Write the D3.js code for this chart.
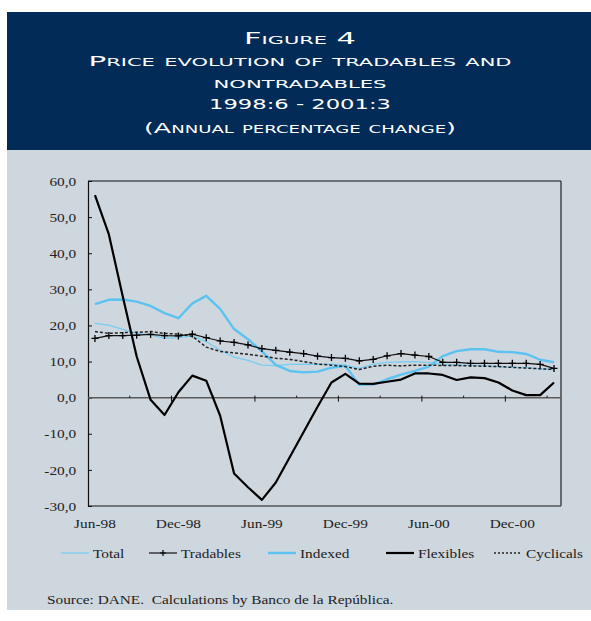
<!DOCTYPE html>
<html>
<head>
<meta charset="utf-8">
<script src="https://cdn.jsdelivr.net/npm/d3@7/dist/d3.min.js"></script>
<style>
  body { margin: 0; background: #ffffff; }
  svg text { font-family: "Liberation Serif", "Times New Roman", serif; }
</style>
</head>
<body>
<script>
// Figure 4 -- tradables and nontradables, annual % change, 1998:6 - 2001:3

//monthly categories
var months = ["Jun-98","Jul-98","Aug-98","Sep-98","Oct-98","Nov-98","Dec-98","Jan-99","Feb-99","Mar-99",
  "Apr-99","May-99","Jun-99","Jul-99","Aug-99","Sep-99","Oct-99","Nov-99","Dec-99","Jan-00",
  "Feb-00","Mar-00","Apr-00","May-00","Jun-00","Jul-00","Aug-00","Sep-00","Oct-00","Nov-00",
  "Dec-00","Jan-01","Feb-01","Mar-01"];

//series values
var total = [20.6, 20.1, 18.9, 17.8, 17.4, 16.4, 16.6, 17.1, 15.5, 13.2, 11.2, 10.3, 9.0, 8.9, 9.2, 9.3, 9.2,
  9.3, 9.0, 8.1, 9.3, 9.8, 9.9, 10.0, 9.7, 9.2, 9.0, 9.0, 8.8, 8.6, 8.4, 8.3, 8.0, 7.7];
var tradables = [16.4, 17.2, 17.2, 17.3, 17.5, 17.2, 17.1, 17.6, 16.6, 15.7, 15.3, 14.6, 13.6, 13.1, 12.6, 12.2, 11.5,
  11.1, 10.9, 10.2, 10.6, 11.6, 12.2, 11.8, 11.4, 9.8, 9.8, 9.5, 9.5, 9.5, 9.5, 9.5, 9.2, 8.1];
var indexed = [25.9, 27.1, 27.2, 26.6, 25.4, 23.4, 22.0, 26.1, 28.2, 24.6, 19.0, 16.2, 12.8, 9.1, 7.4, 7.0, 7.2,
  8.3, 8.8, 3.6, 3.6, 5.1, 6.4, 7.4, 8.6, 11.5, 12.9, 13.4, 13.4, 12.7, 12.6, 12.1, 10.5, 9.8];
var flexibles = [56.1, 45.2, 28.0, 11.4, -0.6, -4.8, 1.5, 6.1, 4.7, -5.0, -21.0, -24.8, -28.3, -23.5, -16.5, -9.5, -2.5,
  4.2, 6.6, 3.9, 3.8, 4.4, 5.0, 6.7, 6.7, 6.3, 4.9, 5.6, 5.4, 4.2, 2.0, 0.7, 0.7, 4.2];
var cyclicals = [18.3, 17.8, 18.0, 18.1, 18.3, 17.8, 17.6, 17.0, 14.0, 12.8, 12.4, 12.0, 11.5, 10.9, 10.6, 10.0, 9.3,
  9.0, 8.6, 7.8, 8.7, 9.0, 8.8, 9.0, 9.0, 8.9, 8.9, 8.8, 8.7, 8.6, 8.4, 8.2, 8.0, 7.8];

//axis ticks and labels
var yTicks = [-30, -20, -10, 0, 10, 20, 30, 40, 50, 60];
var xLabels = ["Jun-98", "Dec-98", "Jun-99", "Dec-99", "Jun-00", "Dec-00"];

//title lines
var titleLines = ["Figure 4", "Price evolution of tradables and", "nontradables", "1998:6 - 2001:3",
  "(Annual percentage change)"];
var sourceText = "Source: DANE.  Calculations by Banco de la Rep\u00fablica.";

//legend entries
var legendNames = ["Total", "Tradables", "Indexed", "Flexibles", "Cyclicals"];

(function(){

var navy = "#022c57",
  panel = "#ced6de",
  blue = "#5cc3f0",
  lightBlue = "#78cdf2",
  stretchX = 1.18;

var width = 591,
  height = 621;

var svg = d3.select("body")
  .append("svg")
  .attr("width", width)
  .attr("height", height);

//header band and grey panel
svg.append("rect").attr("x", 7).attr("y", 12).attr("width", width - 7).attr("height", 138).attr("fill", navy);
svg.append("rect").attr("x", 7).attr("y", 150).attr("width", width - 7).attr("height", 460).attr("fill", panel);

//title, small caps
var titleY = [44, 66, 88, 109, 133],
  titleW = [112, 423, 173, 182, 312],
  titleSize = [16, 14, 14, 14, 14];
titleLines.forEach(function(t, i){
  svg.append("text")
    .attr("x", 300)
    .attr("y", titleY[i])
    .attr("text-anchor", "middle")
    .attr("fill", "#ffffff")
    .attr("textLength", titleW[i])
    .attr("lengthAdjust", "spacingAndGlyphs")
    .style("font-family", "'DejaVu Sans', sans-serif")
    .style("font-variant", "small-caps")
    .style("font-size", titleSize[i] + "px")
    .text(t);
});

//plot frame
var plotLeft = 88, plotRight = 561, plotTop = 181, plotBottom = 506;

var x = d3.scaleBand()
  .domain(months)
  .range([plotLeft, plotRight]);

var y = d3.scaleLinear()
  .domain([-30, 60])
  .range([plotBottom, plotTop]);

function cx(i){
  return x(months[i]) + x.bandwidth() / 2;
}

svg.append("line").attr("x1", plotLeft).attr("x2", plotRight).attr("y1", plotTop).attr("y2", plotTop)
  .attr("stroke", "#111").attr("stroke-width", 1.2);
svg.append("line").attr("x1", plotRight).attr("x2", plotRight).attr("y1", plotTop).attr("y2", plotBottom)
  .attr("stroke", "#222").attr("stroke-width", 1.2);
svg.append("line").attr("x1", plotLeft).attr("x2", plotRight).attr("y1", plotBottom).attr("y2", plotBottom)
  .attr("stroke", "#555").attr("stroke-width", 1.3);

//y axis
var yAxis = d3.axisLeft(y)
  .tickValues(yTicks)
  .tickSize(-4)
  .tickPadding(10)
  .tickFormat(function(d){
    return (d < 0 ? "-" : "") + Math.abs(d).toFixed(1).replace(".", ",");
  });

var yg = svg.append("g")
  .attr("transform", "translate(" + plotLeft + ",0)")
  .call(yAxis);
yg.select(".domain").attr("stroke", "#111").attr("stroke-width", 1.2);
yg.selectAll(".tick line").attr("stroke", "#111");
yg.selectAll(".tick text")
  .attr("transform", "scale(" + stretchX + ",1)")
  .style("font-family", "'Liberation Serif', serif")
  .style("font-size", "13px")
  .attr("fill", "#222");

//zero line with category ticks every 3 months
var y0 = y(0);
svg.append("line").attr("x1", plotLeft).attr("x2", plotRight).attr("y1", y0).attr("y2", y0)
  .attr("stroke", "#5a5a5a").attr("stroke-width", 1.5);

months.forEach(function(m, i){
  if (i === 0 || i % 3 !== 0) return;
  var big = i % 6 === 0;
  svg.append("line")
    .attr("x1", x(m)).attr("x2", x(m))
    .attr("y1", y0 - 2)
    .attr("y2", big ? y0 + 4 : y0)
    .attr("stroke", "#111")
    .attr("stroke-width", 1);
});

//x labels along the bottom
var xAxis = d3.axisBottom(x)
  .tickValues(xLabels)
  .tickSize(0)
  .tickPadding(13);

var xg = svg.append("g")
  .attr("transform", "translate(0," + plotBottom + ")")
  .call(xAxis);
xg.select(".domain").remove();
xg.selectAll(".tick text")
  .attr("transform", "scale(" + stretchX + ",1)")
  .style("font-family", "'Liberation Serif', serif")
  .style("font-size", "13px")
  .attr("fill", "#222");

//lines
var line = d3.line()
  .x(function(d, i){ return cx(i); })
  .y(function(d){ return y(d); });

function addSeries(values, color, w, dash){
  svg.append("path")
    .datum(values)
    .attr("d", line)
    .attr("fill", "none")
    .attr("stroke", color)
    .attr("stroke-width", w)
    .attr("stroke-linejoin", "round")
    .attr("stroke-dasharray", dash || null);
}

addSeries(total, lightBlue, 1.3);
addSeries(indexed, blue, 2.4);
addSeries(cyclicals, "#222", 1.5, "3,2");
addSeries(tradables, "#111", 1.2);
addSeries(flexibles, "#000", 2.2);

//plus markers on tradables
svg.selectAll(".plus")
  .data(tradables)
  .enter()
  .append("path")
  .attr("class", "plus")
  .attr("d", function(d, i){
    var px = cx(i), py = y(d);
    return "M" + (px - 3.5) + "," + py + "H" + (px + 3.5) + "M" + px + "," + (py - 3.5) + "V" + (py + 3.5);
  })
  .attr("stroke", "#000")
  .attr("stroke-width", 1.3);

//legend
var legX = [61, 149, 268, 386, 494],
  legY = 553;
var legStyle = [
  {color: lightBlue, w: 1.3},
  {color: "#111", w: 1.2, plus: true},
  {color: blue, w: 2.4},
  {color: "#000", w: 2.2},
  {color: "#222", w: 1.5, dash: "2,2"}
];
legendNames.forEach(function(name, i){
  var s = legStyle[i];
  svg.append("line")
    .attr("x1", legX[i]).attr("x2", legX[i] + 28)
    .attr("y1", legY).attr("y2", legY)
    .attr("stroke", s.color)
    .attr("stroke-width", s.w)
    .attr("stroke-dasharray", s.dash || null);
  if (s.plus){
    svg.append("path")
      .attr("d", "M" + (legX[i] + 11) + "," + legY + "H" + (legX[i] + 17) + "M" + (legX[i] + 14) + "," + (legY - 3) + "V" + (legY + 3))
      .attr("stroke", "#000").attr("stroke-width", 1.2);
  }
  svg.append("text")
    .attr("transform", "translate(" + (legX[i] + 32) + "," + (legY + 4.5) + ") scale(" + stretchX + ",1)")
    .style("font-size", "13px")
    .attr("fill", "#222")
    .text(name);
});

//source note (keep the double space)
svg.append("text")
  .attr("transform", "translate(47,604) scale(" + stretchX + ",1)")
  .style("font-size", "13px")
  .style("white-space", "pre")
  .attr("fill", "#222")
  .text(sourceText);

})();
</script>
</body>
</html>
